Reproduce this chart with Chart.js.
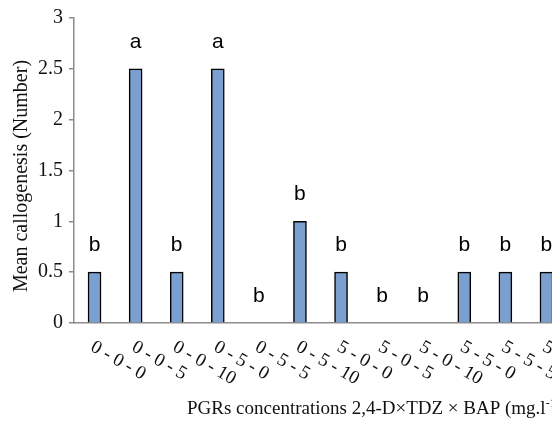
<!DOCTYPE html>
<html><head><meta charset="utf-8">
<script src="https://cdn.jsdelivr.net/npm/chart.js@4"></script>
<style>
html,body{margin:0;padding:0;background:#fff;overflow:hidden;width:552px;height:423px}
#wrap{width:552px;height:423px;overflow:hidden;position:relative}
#c{position:absolute;left:0;top:0}
</style></head>
<body><div id="wrap"><canvas id="c" width="600" height="423"></canvas></div>
<script>
const categories = ["0 - 0 - 0","0 - 0 - 5","0 - 0 - 10","0 - 5 - 0","0 - 5 - 5","0 - 5 - 10",
                    "5 - 0 - 0","5 - 0 - 5","5 - 0 - 10","5 - 5 - 0","5 - 5 - 5","5 - 5 - 10"];
const values = [0.5, 2.5, 0.5, 2.5, 0, 1, 0.5, 0, 0, 0.5, 0.5, 0.5];
const letters = ["b","a","b","a","b","b","b","b","b","b","b","b"];
const yTicks = [0, 0.5, 1, 1.5, 2, 2.5, 3];
const yTitle = "Mean callogenesis (Number)";
const xTitleMain = "PGRs concentrations 2,4-D\u00D7TDZ \u00D7 BAP (mg.l";
const xTitleSup = "-1";
const xTitleEnd = ")";

const SERIF = '"Liberation Serif","Times New Roman",serif';
const SANS = '"Liberation Sans",Arial,sans-serif';

const deco = {
  id: 'deco',
  afterDatasetsDraw(chart) {
    const ctx = chart.ctx;
    const meta = chart.getDatasetMeta(0);
    ctx.save();
    ctx.fillStyle = '#000';
    ctx.font = '21px ' + SANS;
    ctx.textAlign = 'center';
    ctx.textBaseline = 'alphabetic';
    meta.data.forEach((el, i) => {
      ctx.fillText(letters[i], el.x, el.y - 21);
    });
    ctx.restore();
  },
  afterDraw(chart) {
    const ctx = chart.ctx;
    const xs = chart.scales.x;
    const area = chart.chartArea;
    ctx.save();
    ctx.fillStyle = '#111';
    ctx.font = '19px ' + SERIF;
    ctx.textAlign = 'left';
    ctx.textBaseline = 'alphabetic';
    categories.forEach((lab, i) => {
      const x = xs.getPixelForValue(i);
      ctx.save();
      ctx.translate(x - 5, area.bottom + 27);
      ctx.rotate(Math.PI / 6);
      ctx.fillText(lab, 0, 0);
      ctx.restore();
    });
    // x title
    ctx.font = '19px ' + SERIF;
    let tx = 187, ty = 414;
    ctx.fillText(xTitleMain, tx, ty);
    tx += ctx.measureText(xTitleMain).width;
    ctx.font = '12px ' + SERIF;
    ctx.fillText(xTitleSup, tx, ty - 7);
    tx += ctx.measureText(xTitleSup).width;
    ctx.font = '19px ' + SERIF;
    ctx.fillText(xTitleEnd, tx, ty);
    // y title
    ctx.save();
    ctx.translate(27, 176);
    ctx.rotate(-Math.PI / 2);
    ctx.textAlign = 'center';
    ctx.font = '20px ' + SERIF;
    ctx.fillText(yTitle, 0, 0);
    ctx.restore();
    ctx.restore();
  }
};

new Chart(document.getElementById('c'), {
  type: 'bar',
  data: {
    labels: categories,
    datasets: [{
      data: values,
      backgroundColor: '#7BA0CF',
      borderColor: '#000',
      borderWidth: 1.5,
      barThickness: 13
    }]
  },
  options: {
    responsive: false,
    animation: false,
    layout: { padding: { top: 15, right: 33, bottom: 0, left: 0 } },
    plugins: { legend: { display: false }, tooltip: { enabled: false } },
    scales: {
      x: {
        grid: { display: false },
        border: { display: true, color: '#8c8c8c', width: 1.5 },
        ticks: { display: false },
        afterFit(s) { s.height = 100; }
      },
      y: {
        min: 0, max: 3,
        afterBuildTicks(s) { s.ticks = yTicks.map(v => ({ value: v })); },
        grid: { drawOnChartArea: false, drawTicks: true, tickLength: 5, color: '#8c8c8c', lineWidth: 1.5 },
        border: { display: true, color: '#8c8c8c', width: 1.5 },
        ticks: { color: '#111', padding: 6, font: { family: SERIF, size: 20 }, callback: v => String(v) },
        afterFit(s) { s.width = 74; }
      }
    }
  },
  plugins: [deco]
});
</script>
</body></html>
